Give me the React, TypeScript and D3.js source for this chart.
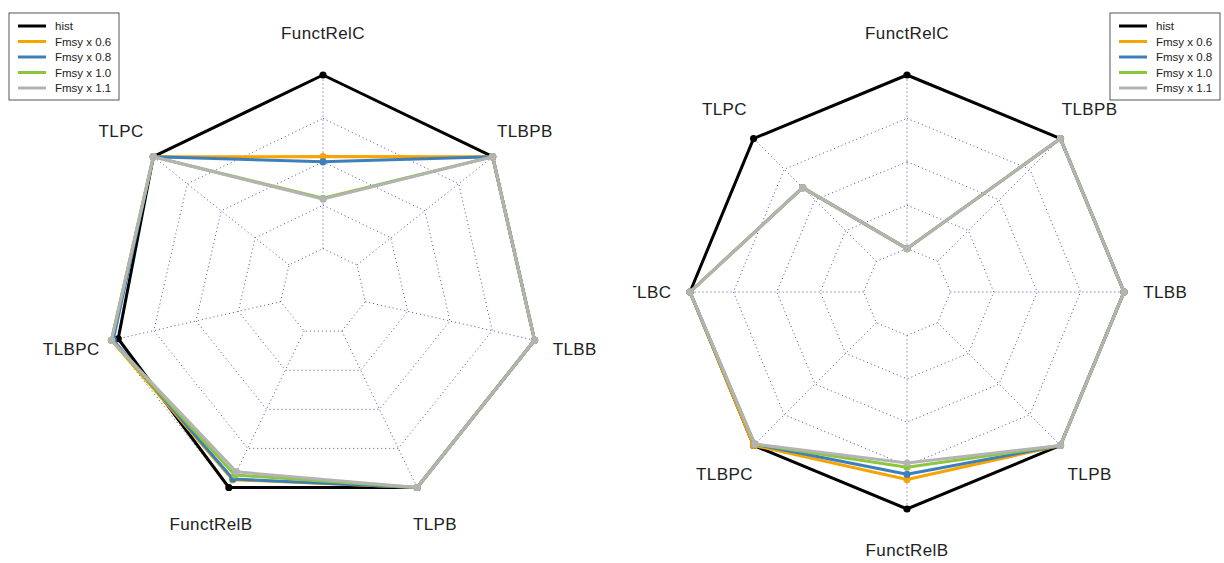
import * as d3 from 'd3';

// axis labels, clockwise from the top
const leftAxes = ['FunctRelC', 'TLBPB', 'TLBB', 'TLPB', 'FunctRelB', 'TLBPC', 'TLPC'];
const rightAxes = ['FunctRelC', 'TLBPB', 'TLBB', 'TLPB', 'FunctRelB', 'TLBPC', 'TLBC', 'TLPC'];

const seriesNames = ['hist', 'Fmsy x 0.6', 'Fmsy x 0.8', 'Fmsy x 1.0', 'Fmsy x 1.1'];
const seriesColors = ['#000000', '#f7a400', '#3d7fbd', '#8cc63f', '#b3b3b3'];

// scaled values (0 = min, 1 = max)
const leftHist = [1, 1, 1, 1, 1, 0.96, 1];
const leftF06 = [0.53, 1, 1, 1, 0.95, 1, 1];
const leftF08 = [0.5, 1, 1, 1, 0.945, 0.99, 1];
const leftF10 = [0.29, 1, 1, 1, 0.92, 1, 1];
const leftF11 = [0.285, 1, 1, 1, 0.9, 1, 1];

const rightHist = [1, 1, 1, 1, 1, 1, 1, 1];
const rightF06 = [0, 1, 1, 1, 0.83, 1, 1, 0.6];
const rightF08 = [0, 1, 1, 1, 0.8, 0.99, 1, 0.6];
const rightF10 = [0, 1, 1, 1, 0.76, 0.99, 1, 0.6];
const rightF11 = [0, 1, 1, 1, 0.735, 0.99, 1, 0.6];

const gridLevels = [0, 0.25, 0.5, 0.75, 1];

const R = 217;
const CY = 292;

function Radar({ cx, axes, series }: { cx: number; axes: string[]; series: number[][] }) {
  const n = axes.length;
  const r = d3.scaleLinear().domain([0, 1]).range([R / 5, R]);
  const ang = (i: number) => (i * 2 * Math.PI) / n;
  const px = (i: number, rr: number) => rr * Math.sin(ang(i));
  const py = (i: number, rr: number) => -rr * Math.cos(ang(i));
  const line = d3
    .lineRadial<number>()
    .angle((_, i) => ang(i))
    .radius((d) => r(d))
    .curve(d3.curveLinearClosed);
  const ringLine = d3
    .lineRadial<number>()
    .angle((_, i) => ang(i))
    .radius((d) => d)
    .curve(d3.curveLinearClosed);

  return (
    <g transform={`translate(${cx},${CY})`}>
      {gridLevels.map((lv) => (
        <path
          key={lv}
          d={ringLine(axes.map(() => r(lv))) || ''}
          fill="none"
          stroke="#3c3ca8"
          strokeOpacity={0.9}
          strokeWidth={1}
          strokeDasharray="1 3"
        />
      ))}
      {axes.map((a, i) => (
        <line
          key={a + i}
          x1={px(i, r(0))}
          y1={py(i, r(0))}
          x2={px(i, r(1))}
          y2={py(i, r(1))}
          stroke="#3c3ca8"
          strokeOpacity={0.9}
          strokeWidth={1}
          strokeDasharray="1 3"
        />
      ))}
      {series.map((vals, s) => (
        <g key={s}>
          <path d={line(vals) || ''} fill="none" stroke={seriesColors[s]} strokeWidth={3} strokeLinejoin="round" />
          {vals.map((v, i) => (
            <circle key={i} cx={px(i, r(v))} cy={py(i, r(v))} r={3.6} fill={seriesColors[s]} />
          ))}
        </g>
      ))}
      {axes.map((a, i) => (
        <text
          key={'t' + a + i}
          x={px(i, R * 1.19)}
          y={py(i, R * 1.19)}
          textAnchor="middle"
          dominantBaseline="central"
          fontSize={17}
          letterSpacing={0.4}
          fill="#222"
        >
          {a}
        </text>
      ))}
    </g>
  );
}

function Legend({ x, y }: { x: number; y: number }) {
  return (
    <g transform={`translate(${x},${y})`}>
      <rect x={0} y={0} width={110} height={87} fill="#fff" stroke="#555" strokeWidth={1} />
      {seriesNames.map((nm, i) => (
        <g key={nm} transform={`translate(0,${13 + i * 15.5})`}>
          <line x1={9} x2={37} y1={0} y2={0} stroke={seriesColors[i]} strokeWidth={3} />
          <text x={46} y={0} dominantBaseline="central" fontSize={11.5} fill="#222">
            {nm}
          </text>
        </g>
      ))}
    </g>
  );
}

export default function App() {
  return (
    <svg
      width={1224}
      height={563}
      style={{ position: 'absolute', left: 0, top: 0, background: '#fff' }}
      fontFamily="'Liberation Sans', Arial, sans-serif"
    >
      <defs>
        <clipPath id="rightPanel">
          <rect x={633} y={0} width={591} height={563} />
        </clipPath>
      </defs>
      <rect width={1224} height={563} fill="#fff" />
      <Radar cx={323} axes={leftAxes} series={[leftHist, leftF06, leftF08, leftF10, leftF11]} />
      <g clipPath="url(#rightPanel)">
        <Radar cx={907} axes={rightAxes} series={[rightHist, rightF06, rightF08, rightF10, rightF11]} />
      </g>
      <Legend x={9} y={13} />
      <Legend x={1110} y={13} />
    </svg>
  );
}
